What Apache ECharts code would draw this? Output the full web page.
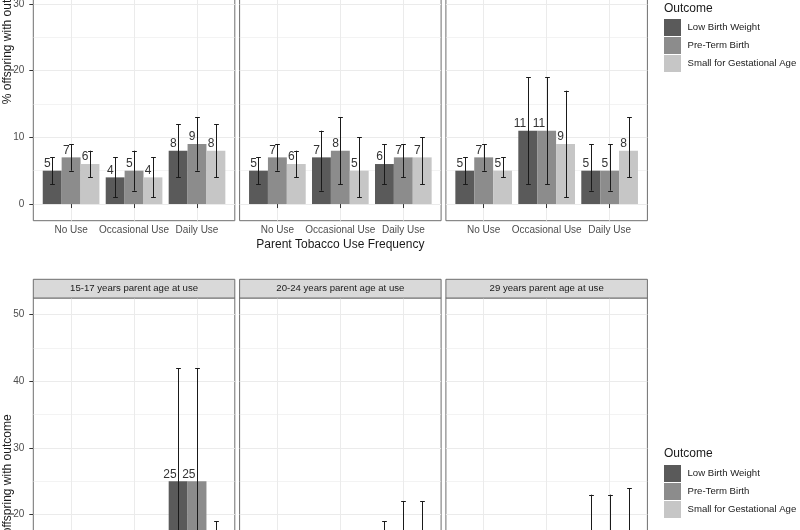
<!DOCTYPE html>
<html><head><meta charset="utf-8">
<script src="https://cdn.jsdelivr.net/npm/echarts@6/dist/echarts.min.js"></script>
<style>html,body{margin:0;padding:0;background:#fff;overflow:hidden}#c{width:800px;height:530px}</style>
</head><body><div id="c"></div>
<script>
// ---------------- data ----------------
const categories = ['No Use', 'Occasional Use', 'Daily Use'];
const outcomes = ['Low Birth Weight', 'Pre-Term Birth', 'Small for Gestational Age'];
const yTickValues = [0, 10, 20, 30, 40, 50];
const xTickValues = [1, 2, 3];
const bottomStripLabels = ['15-17 years parent age at use', '20-24 years parent age at use', '29 years parent age at use'];
const xTitle = 'Parent Tobacco Use Frequency';
const yTitle = '% offspring with outcome';
const legendTitle = 'Outcome';

// rows: [percent, lower CI, upper CI] for No Use, Occasional Use, Daily Use
// upper figure (facet strips are outside the visible area)
const topP1_LBW = [[5, 3, 7], [4, 1, 7], [8, 4, 12]];
const topP1_PTB = [[7, 5, 9], [5, 2, 8], [9, 5, 13]];
const topP1_SGA = [[6, 4, 8], [4, 1, 7], [8, 4, 12]];
const topP2_LBW = [[5, 3, 7], [7, 2, 11], [6, 3, 9]];
const topP2_PTB = [[7, 5, 9], [8, 3, 13], [7, 4, 9]];
const topP2_SGA = [[6, 4, 8], [5, 1, 10], [7, 3, 10]];
const topP3_LBW = [[5, 3, 7], [11, 3, 19], [5, 2, 9]];
const topP3_PTB = [[7, 5, 9], [11, 3, 19], [5, 2, 9]];
const topP3_SGA = [[5, 4, 7], [9, 1, 17], [8, 4, 13]];
// lower figure (only the tallest marks reach the visible area)
const botP1_LBW = [[6, 3, 9], [9, 2, 16], [25, 8, 42]];
const botP1_PTB = [[7, 4, 10], [9, 2, 16], [25, 8, 42]];
const botP1_SGA = [[6, 3, 9], [7, 1, 13], [6, 0, 19]];
const botP2_LBW = [[5, 4, 6], [8, 3, 13], [8, 0, 19]];
const botP2_PTB = [[7, 6, 8], [9, 4, 14], [11, 0, 22]];
const botP2_SGA = [[6, 5, 7], [7, 2, 12], [11, 0, 22]];
const botP3_LBW = [[5, 4, 6], [6, 1, 11], [9, 0, 23]];
const botP3_PTB = [[7, 6, 8], [8, 2, 14], [9, 0, 23]];
const botP3_SGA = [[5, 4, 6], [7, 1, 13], [10, 0, 24]];

const panels = [
  [topP1_LBW, topP1_PTB, topP1_SGA], [topP2_LBW, topP2_PTB, topP2_SGA], [topP3_LBW, topP3_PTB, topP3_SGA],
  [botP1_LBW, botP1_PTB, botP1_SGA], [botP2_LBW, botP2_PTB, botP2_SGA], [botP3_LBW, botP3_PTB, botP3_SGA]
];

// ---------------- style / layout ----------------
const FONT = '"Liberation Sans", Arial, sans-serif';
const colors = ['#5a5a5a', '#8c8c8c', '#c6c6c6'];
const BORDER = '#6e6e6e';
const GRIDC = '#ebebeb';
const LAY = { left0: 33.3, step: 206.3, width: 201.5, height: 366.7, topFig: -146, botFig: 298, stripH: 18.7 };
const DODGE = 0.3, BARW = 0.3, CAP = 0.0375;

const chart = echarts.init(document.getElementById('c'), null, { renderer: 'canvas' });

const grids = [], xAxes = [], yAxes = [], series = [];
for (let p = 0; p < 6; p++) {
  const col = p % 3, isTop = p < 3;
  grids.push({
    left: LAY.left0 + col * LAY.step, top: isTop ? LAY.topFig : LAY.botFig,
    width: LAY.width, height: LAY.height,
    show: true, backgroundColor: '#fff', borderColor: BORDER, borderWidth: 1,
    containLabel: false, outerBoundsMode: 'none'
  });
  xAxes.push({
    type: 'value', gridIndex: p, min: 0.4, max: 3.6,
    axisLine: { show: false },
    axisTick: { show: true, customValues: xTickValues, length: 4, lineStyle: { color: '#333' } },
    axisLabel: { show: true, customValues: xTickValues, margin: 5, fontSize: 10, color: '#4d4d4d', fontFamily: FONT,
      formatter: v => categories[Math.round(v) - 1] },
    splitLine: { show: true, lineStyle: { color: GRIDC, width: 1 } },
    minorSplitLine: { show: false },
    name: col === 1 ? xTitle : '', nameLocation: 'middle', nameGap: 18, nameMoveOverlap: false,
    nameTextStyle: { fontSize: 12, color: '#1a1a1a', fontFamily: FONT }
  });
  yAxes.push({
    type: 'value', gridIndex: p, min: -2.5, max: 52.5,
    axisLine: { show: false },
    axisTick: { show: col === 0, customValues: yTickValues, length: 4, lineStyle: { color: '#333' } },
    axisLabel: { show: col === 0, customValues: yTickValues, margin: 9, fontSize: 10, color: '#4d4d4d', fontFamily: FONT },
    splitLine: { show: true, lineStyle: { color: GRIDC, width: 1 } },
    minorTick: { show: false, splitNumber: 2 },
    minorSplitLine: { show: true, lineStyle: { color: GRIDC, width: 0.6 } },
    name: col === 0 ? yTitle : '', nameLocation: 'middle', nameGap: 19.5, nameRotate: 90, nameMoveOverlap: false,
    nameTextStyle: { fontSize: 12, color: '#1a1a1a', fontFamily: FONT }
  });
  for (let k = 0; k < 3; k++) {
    series.push({
      type: 'custom', name: outcomes[k], xAxisIndex: p, yAxisIndex: p,
      itemStyle: { color: colors[k] },
      encode: { x: 0, y: 1 },
      data: panels[p][k].map((r, i) => [xTickValues[i], r[0], r[1], r[2]]),
      renderItem: makeRender(k)
    });
  }
}

function makeRender(k) {
  return function (params, api) {
    const xc = api.value(0) + (k - 1) * DODGE;
    const v = api.value(1), lo = api.value(2), hi = api.value(3);
    const a = api.coord([xc - BARW / 2, 0]);
    const b = api.coord([xc + BARW / 2, v]);
    const c = api.coord([xc, v]);
    const pl = api.coord([xc, lo]);
    const ph = api.coord([xc, hi]);
    const half = api.size([CAP, 0])[0];
    const cx = Math.round(c[0]) + 0.5;
    const es = { stroke: '#1a1a1a', lineWidth: 1 };
    return {
      type: 'group', children: [
        { type: 'rect', shape: { x: a[0], y: b[1], width: b[0] - a[0], height: a[1] - b[1] }, style: { fill: colors[k] } },
        { type: 'text', style: { text: String(v), x: c[0] - 1.5, y: c[1] - 1, align: 'right', verticalAlign: 'bottom',
            fontSize: 12, fontFamily: FONT, fill: '#333' } },
        { type: 'line', shape: { x1: cx, y1: pl[1], x2: cx, y2: ph[1] }, style: es },
        { type: 'line', shape: { x1: cx - half, y1: Math.round(ph[1]) + 0.5, x2: cx + half, y2: Math.round(ph[1]) + 0.5 }, style: es },
        { type: 'line', shape: { x1: cx - half, y1: Math.round(pl[1]) + 0.5, x2: cx + half, y2: Math.round(pl[1]) + 0.5 }, style: es }
      ]
    };
  };
}

const graphics = [];
for (let col = 0; col < 3; col++) {
  const x = LAY.left0 + col * LAY.step;
  const y = LAY.botFig - LAY.stripH;
  graphics.push({ type: 'rect', shape: { x: x, y: y, width: LAY.width, height: LAY.stripH },
    style: { fill: '#d9d9d9', stroke: BORDER, lineWidth: 1 }, z: 10 });
  graphics.push({ type: 'text', style: { text: bottomStripLabels[col], x: x + LAY.width / 2, y: y + LAY.stripH / 2,
    align: 'center', verticalAlign: 'middle', fontSize: 9.6, fontFamily: FONT, fill: '#1a1a1a' }, z: 11 });
}
[8.5, 453.3].forEach(y => graphics.push({ type: 'text', style: { text: legendTitle, x: 664, y: y,
  align: 'left', verticalAlign: 'middle', fontSize: 12, fontFamily: FONT, fill: '#1a1a1a' } }));

const legendBase = { data: outcomes, orient: 'vertical', left: 664, itemWidth: 17, itemHeight: 17, itemGap: 1,
  icon: 'rect', selectedMode: false, padding: 0,
  textStyle: { fontSize: 9.6, color: '#1a1a1a', fontFamily: FONT, padding: [0, 0, 0, 1.5] } };

chart.setOption({
  animation: false,
  backgroundColor: '#fff',
  grid: grids, xAxis: xAxes, yAxis: yAxes, series: series,
  legend: [Object.assign({}, legendBase, { top: 19 }), Object.assign({}, legendBase, { top: 465 })],
  graphic: graphics
});
</script></body></html>
